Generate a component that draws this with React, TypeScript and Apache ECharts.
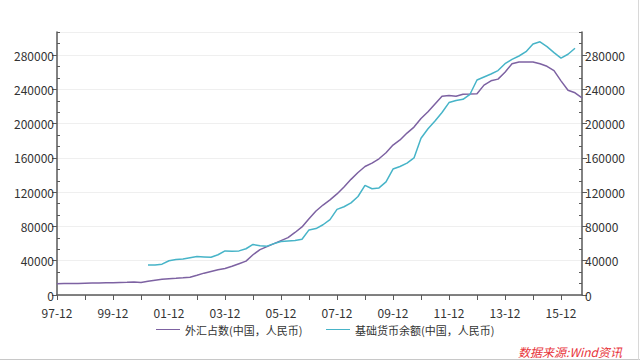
import React, { useEffect, useRef } from "react";
import * as echarts from "echarts";

const quarters: string[] = [
  "97-12",
  "98-03", "98-06", "98-09", "98-12",
  "99-03", "99-06", "99-09", "99-12",
  "00-03", "00-06", "00-09", "00-12",
  "01-03", "01-06", "01-09", "01-12",
  "02-03", "02-06", "02-09", "02-12",
  "03-03", "03-06", "03-09", "03-12",
  "04-03", "04-06", "04-09", "04-12",
  "05-03", "05-06", "05-09", "05-12",
  "06-03", "06-06", "06-09", "06-12",
  "07-03", "07-06", "07-09", "07-12",
  "08-03", "08-06", "08-09", "08-12",
  "09-03", "09-06", "09-09", "09-12",
  "10-03", "10-06", "10-09", "10-12",
  "11-03", "11-06", "11-09", "11-12",
  "12-03", "12-06", "12-09", "12-12",
  "13-03", "13-06", "13-09", "13-12",
  "14-03", "14-06", "14-09", "14-12",
  "15-03", "15-06", "15-09", "15-12",
  "16-03", "16-06", "16-09",
];

const waihui: number[] = [
  13200,
  13300, 13400, 13500, 13700,
  13900, 14100, 14300, 14400,
  14600, 14800, 15100, 14500,
  16000, 17300, 18300, 19100,
  19500, 20000, 20700, 23000,
  25500, 27500, 29500, 31000,
  33500, 36500, 39500, 47000,
  53000, 56500, 60000, 63500,
  67000, 73000, 79500, 89000,
  98000, 105000, 111000, 118000,
  126000, 135000, 143000, 150000,
  154000, 159000, 166000, 175000,
  181000, 189000, 196000, 206000,
  214000, 223000, 232000, 233000,
  232000, 234300, 234500, 235000,
  245000, 250000, 252000, 260000,
  270000, 272000, 272000, 272000,
  270000, 267000, 262000, 250000,
  239000, 236000, 230000,
];

const jichu: (number | null)[] = [
  null,
  null, null, null, null,
  null, null, null, null,
  null, null, null, null,
  35000, 35000, 36000, 40000,
  41500, 42000, 43500, 45000,
  44500, 44000, 47000, 51500,
  51000, 51500, 54000, 59000,
  57500, 57000, 60000, 62500,
  63000, 63500, 65000, 76000,
  77500, 82000, 88000, 100000,
  103000, 107500, 115000, 128000,
  124000, 125000, 132000, 147000,
  150000, 154000, 160000, 183000,
  194000, 203000, 213000, 224600,
  227000, 228400, 234300, 251000,
  254500, 258000, 262000, 270000,
  275000, 279000, 284000, 293000,
  295600, 290000, 283000, 276500,
  281000, 288000, null,
];

const seriesNames = ["外汇占数(中国，人民币)", "基础货币余额(中国，人民币)"];
const source = "数据来源:Wind资讯";

const FONT = "'Noto Sans CJK SC', 'Noto Sans', sans-serif";
const AXIS_COLOR = "#595959";
const Y_MAX = 307000;
const PURPLE = "#7d62a2";
const CYAN = "#47b4c8";

export default function App() {
  const ref = useRef<HTMLDivElement>(null);
  useEffect(() => {
    if (!ref.current) return;
    const chart = echarts.init(ref.current, undefined, { renderer: "svg" });
    const yBase = {
      type: "value" as const,
      min: 0,
      max: Y_MAX,
      interval: 40000,
    };
    const legendBase = {
      bottom: 20,
      itemWidth: 24,
      itemHeight: 10,
      itemGap: 0,
      icon: "path://M0,5 L24,5 L24,6 L0,6 Z",
      textStyle: { fontFamily: FONT, fontSize: 11, color: "#333" },
    };
    const yLabel = {
      color: "#333",
      fontSize: 12,
      lineHeight: 12,
      fontFamily: FONT,
      margin: 3,
      showMaxLabel: false,
      formatter: (v: number) => String(Math.round(v)),
    };
    chart.setOption({
      animation: false,
      backgroundColor: "#ffffff",
      textStyle: { fontFamily: FONT },
      grid: { left: 57, right: 58, top: 32, bottom: 65, containLabel: false },
      legend: [
        { ...legendBase, left: 151, data: [seriesNames[0]] },
        { ...legendBase, left: 321, data: [seriesNames[1]] },
      ],
      xAxis: {
        type: "category",
        data: quarters,
        boundaryGap: false,
        axisLine: { lineStyle: { color: AXIS_COLOR, width: 1.5 } },
        axisTick: {
          interval: (i: number) => i % 4 === 0,
          length: 5,
          lineStyle: { color: AXIS_COLOR },
        },
        axisLabel: {
          interval: (i: number) => i % 8 === 0,
          color: "#333",
          fontSize: 12,
          lineHeight: 12,
          fontFamily: FONT,
          margin: 11,
        },
        splitLine: { show: false },
      },
      yAxis: [
        {
          ...yBase,
          position: "left",
          axisLine: { show: true, lineStyle: { color: AXIS_COLOR, width: 1.5 } },
          axisTick: { show: true, length: 5, lineStyle: { color: AXIS_COLOR } },
          axisLabel: yLabel,
          splitLine: { show: true, lineStyle: { color: "#efefef", width: 1 } },
        },
        {
          ...yBase,
          position: "right",
          axisLine: { show: true, lineStyle: { color: AXIS_COLOR, width: 1.5 } },
          axisTick: { show: true, length: 5, lineStyle: { color: AXIS_COLOR } },
          axisLabel: yLabel,
          splitLine: { show: false },
        },
        {
          ...yBase,
          position: "left",
          axisLine: { show: false },
          axisTick: { show: false, inside: true },
          minorTick: { show: true, splitNumber: 3, length: 3, lineStyle: { color: AXIS_COLOR } },
          axisLabel: { show: false },
          splitLine: { show: false },
        },
        {
          ...yBase,
          position: "right",
          axisLine: { show: false },
          axisTick: { show: false, inside: true },
          minorTick: { show: true, splitNumber: 3, length: 3, lineStyle: { color: AXIS_COLOR } },
          axisLabel: { show: false },
          splitLine: { show: false },
        },
      ],
      series: [
        {
          name: seriesNames[0],
          type: "line",
          yAxisIndex: 0,
          data: waihui,
          symbol: "none",
          lineStyle: { color: PURPLE, width: 1.5 },
          itemStyle: { color: PURPLE },
        },
        {
          name: seriesNames[1],
          type: "line",
          yAxisIndex: 1,
          data: jichu,
          symbol: "none",
          connectNulls: false,
          lineStyle: { color: CYAN, width: 1.5 },
          itemStyle: { color: CYAN },
        },
      ],
      graphic: [
        {
          type: "text",
          right: 18,
          bottom: 3,
          style: {
            text: source,
            fill: "#e8343a",
            font: `italic 12px ${FONT}`,
          },
        },
        {
          type: "line",
          shape: { x1: 0, y1: 359.5, x2: 640, y2: 359.5 },
          style: { stroke: "#c8c8c8", lineWidth: 1 },
        },
        {
          type: "line",
          shape: { x1: 638.5, y1: 0, x2: 638.5, y2: 360 },
          style: { stroke: "#d8d8d8", lineWidth: 1 },
        },
      ],
    });
    return () => chart.dispose();
  }, []);
  return (
    <div
      ref={ref}
      style={{ position: "fixed", left: 0, top: 0, width: 640, height: 360 }}
    />
  );
}
